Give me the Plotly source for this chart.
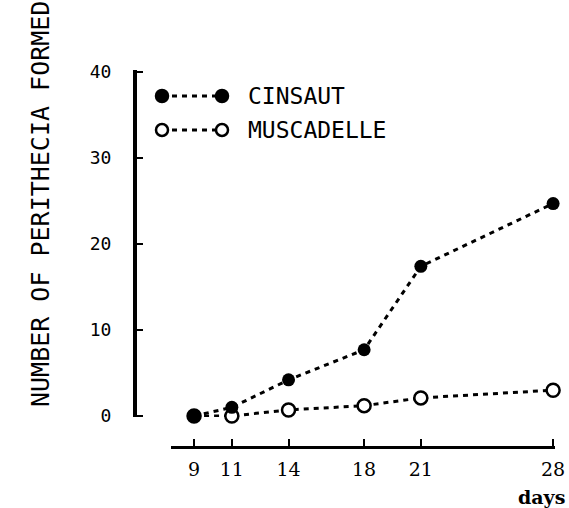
import plotly.graph_objects as go

# ---- data ----
days = [9, 11, 14, 18, 21, 28]
cinsaut = [0, 1, 4.2, 7.7, 17.4, 24.7]
muscadelle = [0, 0, 0.7, 1.2, 2.1, 3.0]
x_ticks = [9, 11, 14, 18, 21, 28]
y_ticks = [0, 10, 20, 30, 40]
series_names = ["CINSAUT", "MUSCADELLE"]

W, H = 569, 508
ML, MR, MT, MB = 135, 14, 70, 61
PW, PH = W - ML - MR, H - MT - MB


def px_x(p):
    return (p - ML) / PW


def px_y(p):
    return (H - MB - p) / PH


fig = go.Figure()
dash = "5px,5px"
fig.add_trace(go.Scatter(
    x=days, y=muscadelle, mode="lines+markers", name=series_names[1],
    line=dict(color="black", width=3, dash=dash),
    marker=dict(symbol="circle", size=13, color="white",
                line=dict(color="black", width=2.5)),
    cliponaxis=False, showlegend=False))
fig.add_trace(go.Scatter(
    x=days, y=cinsaut, mode="lines+markers", name=series_names[0],
    line=dict(color="black", width=3, dash=dash),
    marker=dict(symbol="circle", size=13, color="black"),
    cliponaxis=False, showlegend=False))

shapes = []
annotations = []
# custom legend
rows = [(96, True, series_names[0]), (130, False, series_names[1])]
for yy, filled, name in rows:
    shapes.append(dict(type="line", xref="paper", yref="paper",
                       x0=px_x(162), x1=px_x(222), y0=px_y(yy), y1=px_y(yy),
                       line=dict(color="black", width=3, dash=dash)))
    for cx in (162, 222):
        shapes.append(dict(type="circle", xref="paper", yref="paper",
                           xsizemode="pixel", ysizemode="pixel",
                           xanchor=px_x(cx), yanchor=px_y(yy),
                           x0=-6, x1=6, y0=-6, y1=6,
                           fillcolor="black" if filled else "white",
                           line=dict(color="black", width=2.5)))
    annotations.append(dict(text=name, xref="paper", yref="paper",
                            x=px_x(246), y=px_y(yy), xanchor="left",
                            yanchor="middle", showarrow=False,
                            font=dict(family="DejaVu Sans Mono", size=23,
                                      color="black")))

annotations.append(dict(text="NUMBER OF PERITHECIA FORMED", xref="paper",
                        yref="paper", x=px_x(40), y=px_y(204),
                        xanchor="center", yanchor="middle", textangle=-90,
                        showarrow=False,
                        font=dict(family="DejaVu Sans Mono", size=25,
                                  color="black")))
annotations.append(dict(text="days", xref="paper", yref="paper",
                        x=px_x(567), y=px_y(497), xanchor="right",
                        yanchor="middle", showarrow=False,
                        font=dict(family="DejaVu Serif", size=19,
                                  color="black", weight="bold")))

fig.update_layout(
    width=W, height=H,
    margin=dict(l=ML, r=MR, t=MT, b=MB, pad=0),
    paper_bgcolor="white", plot_bgcolor="white",
    shapes=shapes, annotations=annotations,
    xaxis=dict(range=[7.78, 28.1], domain=[px_x(171), 1],
               anchor="free", position=0, automargin=False,
               showgrid=False, zeroline=False,
               showline=True, linecolor="black", linewidth=3,
               ticks="inside", ticklen=7, tickwidth=2, tickcolor="black",
               tickvals=x_ticks, ticktext=[str(t) for t in x_ticks],
               ticklabelstandoff=4, ticklabeloverflow="allow",
               tickfont=dict(family="DejaVu Serif", size=19,
                             color="black")),
    yaxis=dict(range=[-0.12, 40.23], domain=[px_y(417), 1],
               anchor="free", position=0, automargin=False,
               showgrid=False, zeroline=False,
               showline=True, linecolor="black", linewidth=4,
               ticks="inside", ticklen=6, tickwidth=2, tickcolor="black",
               tickvals=y_ticks, ticktext=[str(t) for t in y_ticks],
               ticklabelstandoff=18,
               tickfont=dict(family="DejaVu Sans Mono", size=18,
                             color="black")),
)

fig.write_html("out.html")
